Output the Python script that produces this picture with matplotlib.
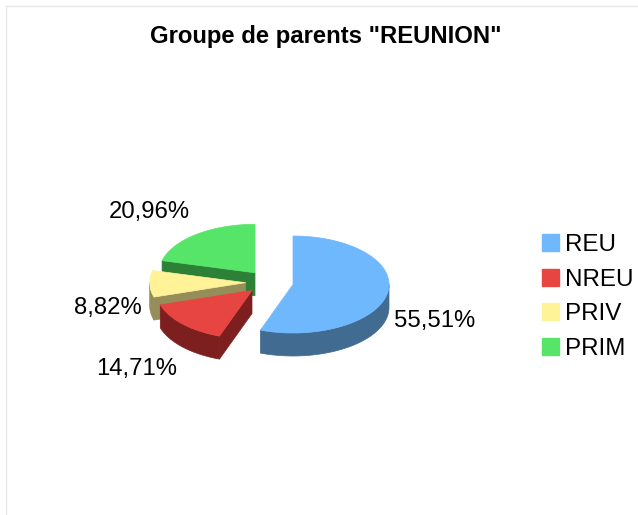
import numpy as np
import matplotlib
matplotlib.use("Agg")
import matplotlib.pyplot as plt
from matplotlib.patches import Patch

plt.rcParams['font.family'] = ['Liberation Sans', 'DejaVu Sans']

# data
labels = ["REU", "NREU", "PRIV", "PRIM"]
values = [55.51, 14.71, 8.82, 20.96]
value_labels = ["55,51%", "14,71%", "8,82%", "20,96%"]

# style
top_colors = ["#6fb8fd", "#e64541", "#fff297", "#57e569"]
side_colors = ["#426b92", "#7e1f1f", "#958d5a", "#2c8136"]

# layout, in pixels of the picture
centers = [(293, 284.5), (252, 290.5), (245.7, 282.7), (255, 272.8)]
label_pos = [(435, 321), (137, 369), (108, 308), (149, 212)]
rx = 96
ry = 48.5
depth = 23


def rim_point(c, t):
    return c[0] + rx * np.sin(t), c[1] - ry * np.cos(t)


fig = plt.figure(figsize=(6.38, 5.15), dpi=100)
ax = fig.add_axes([0, 0, 1, 1])
ax.set_xlim(0, 638)
ax.set_ylim(515, 0)
ax.axis("off")

# slices go clockwise from 12 o'clock, the back ones are drawn first
ends = np.cumsum(values) / 100 * 2 * np.pi
starts = ends - np.radians(np.array(values) * 3.6)
for i in [3, 2, 1, 0]:
    c = centers[i]
    # cut faces, only the ones turned to the viewer
    faces = []
    if np.sin(starts[i]) < -1e-6:
        faces.append(starts[i])
    if np.sin(ends[i]) > 1e-6:
        faces.append(ends[i])
    for t in faces:
        x, y = rim_point(c, t)
        ax.fill([c[0], x, x, c[0]], [c[1], y, y + depth, c[1] + depth],
                color=side_colors[i], lw=0.5, zorder=i * -2 + 10)
    # outer wall, only the front half of the ellipse shows
    a = max(starts[i], np.pi / 2)
    b = min(ends[i], 3 * np.pi / 2)
    if a < b:
        t = np.linspace(a, b, 80)
        x, y = rim_point(c, t)
        ax.fill(np.r_[x, x[::-1]], np.r_[y, y[::-1] + depth],
                color=side_colors[i], lw=0.5, zorder=i * -2 + 10)
    t = np.linspace(starts[i], ends[i], 120)
    x, y = rim_point(c, t)
    ax.fill(np.r_[c[0], x], np.r_[c[1], y], color=top_colors[i], lw=0.5,
            zorder=i * -2 + 11)

for txt, p in zip(value_labels, label_pos):
    ax.text(p[0], p[1], txt, fontsize=17.2, ha="center", va="center")

ax.text(325.5, 37, 'Groupe de parents "REUNION"', fontsize=17.2, fontweight="bold",
        ha="center", va="center")

# frame lines of the page
ax.plot([5.5, 5.5, 638], [515, 5.5, 5.5], color="#e6e6e6", lw=1)

handles = [Patch(color=c) for c in top_colors]
ax.legend(handles, labels, loc="center left", bbox_to_anchor=(542 / 638, 1 - 297 / 515),
          frameon=False, fontsize=17.4, handlelength=0.7, handleheight=0.7,
          handletextpad=0.25, labelspacing=0.53, borderpad=0, borderaxespad=0)

fig.savefig("out.png", dpi=100)
